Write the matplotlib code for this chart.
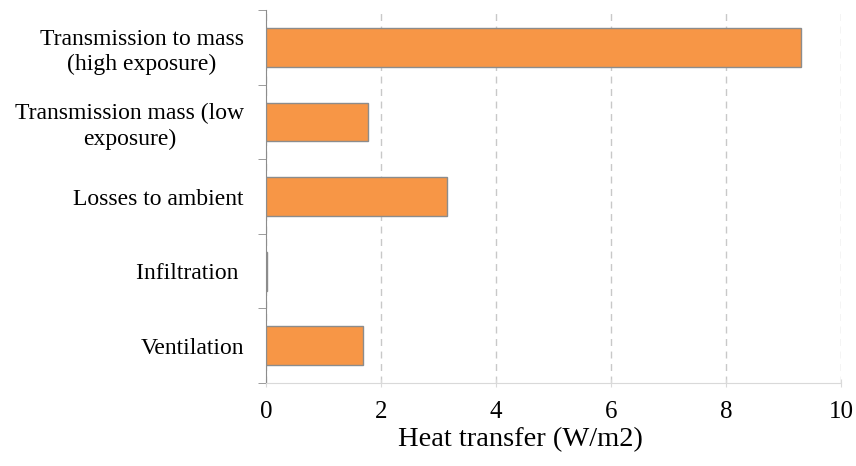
import matplotlib.pyplot as plt
import numpy as np

categories = ['Transmission to mass\n(high exposure)',
              'Transmission mass (low\nexposure)',
              'Losses to ambient',
              'Infiltration ',
              'Ventilation']
values = [9.3, 1.77, 3.15, 0.02, 1.69]

plt.rcParams['font.family'] = ['Liberation Serif', 'DejaVu Serif']

fig = plt.figure(figsize=(8.56, 4.66), dpi=100)
ax = fig.add_axes([0.311, 0.178, 0.6715, 0.8005])

y = np.arange(len(categories))
ax.barh(y, values, height=0.52, color='#F79646', edgecolor='#8c8c8c', linewidth=1, zorder=3)

ax.set_xlim(0, 10)
ax.set_ylim(len(categories) - 0.5, -0.5)
ax.set_xticks([0, 2, 4, 6, 8, 10])
ax.tick_params(axis='x', labelsize=18, length=6, color='#d9d9d9', direction='inout', pad=10)
ax.set_yticks(y)
ax.set_yticklabels(categories, fontsize=17, ha='right', multialignment='center', linespacing=1.25)
ax.tick_params(axis='y', which='major', length=0, pad=16)
ax.set_yticks(np.arange(-0.5, len(categories)), minor=True)
ax.tick_params(axis='y', which='minor', length=6, color='#8c8c8c')

ax.grid(axis='x', linestyle=(0, (5, 4)), color='#c8c8c8', linewidth=1, zorder=0)
for s in ['top', 'right']:
    ax.spines[s].set_visible(False)
ax.spines['left'].set_color('#8c8c8c')
ax.spines['bottom'].set_color('#d9d9d9')

ax.set_xlabel('Heat transfer (W/m2)', fontsize=20.5, labelpad=2)
ax.xaxis.set_label_coords(0.442, -0.118)

plt.savefig('out.png', dpi=100)
